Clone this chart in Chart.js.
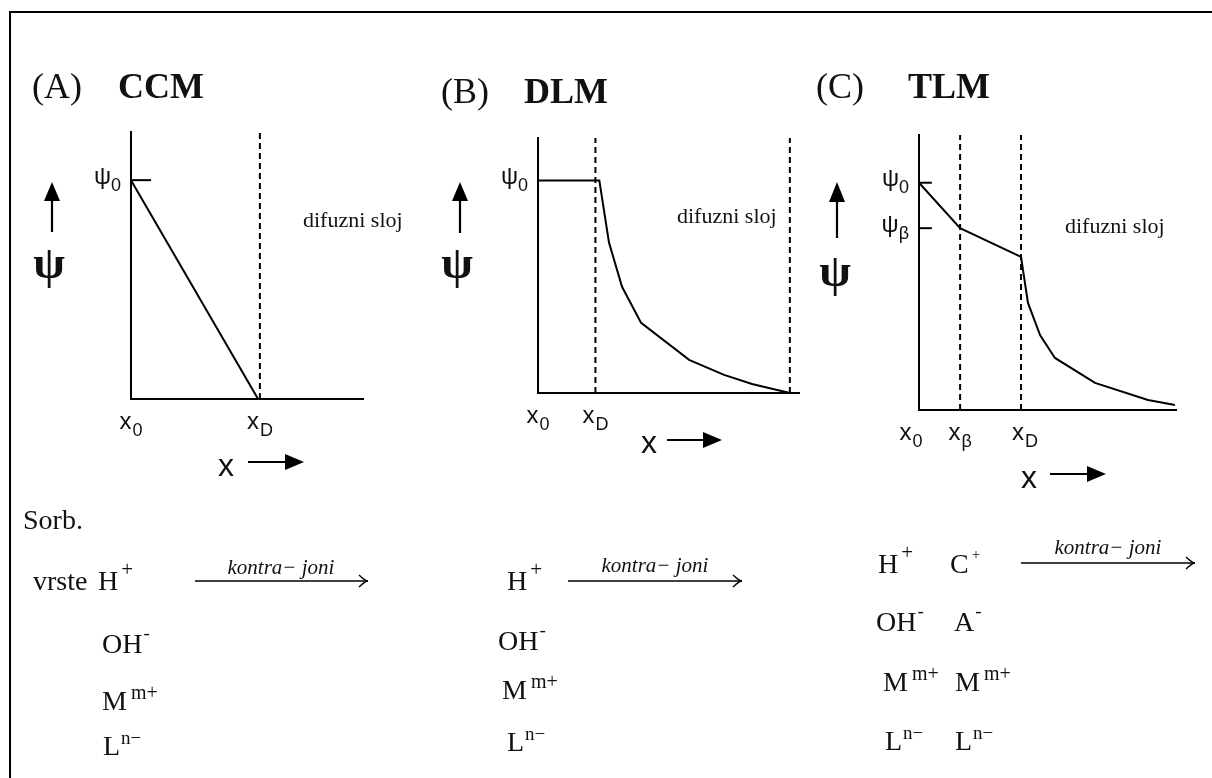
<!DOCTYPE html>
<html>
<head>
<meta charset="utf-8">
<script src="https://cdn.jsdelivr.net/npm/chart.js@4.4.0/dist/chart.umd.min.js"></script>
<style>
html, body { margin: 0; padding: 0; background: #fff; }
#page { position: relative; width: 1212px; height: 778px; overflow: hidden; background: #fff; }
#frame { position: absolute; left: 9px; top: 11px; width: 1220px; height: 790px; border-top: 2px solid #000; border-left: 2px solid #000; }
canvas { position: absolute; left: 0; top: 0; }
.t { position: absolute; white-space: nowrap; color: #111; }
.s { position: relative; line-height: 0; }
</style>
</head>
<body>
<div id="page">
  <div id="frame"></div>
  <canvas id="ccm" width="1212" height="778"></canvas>
  <canvas id="dlm" width="1212" height="778"></canvas>
  <canvas id="tlm" width="1212" height="778"></canvas>
</div>
<script>
// potential profiles psi(x), psi0 = 1

// (A) constant capacitance: straight drop to zero at xD
var ccmX = [0, 4.93];
var ccmPsi = [1, 0];
var ccmPlanes = [5];
var ccmXTicks = [0, 5];
var ccmXLabels = [['x', '0'], ['x', 'D']];
var ccmPsiTicks = [1];
var ccmPsiLabels = [['ψ', '0']];

// (B) diffuse layer: flat to xD, then decays
var dlmX = [0, 2.35, 2.72, 3.22, 3.95, 5.79, 7.13, 8.2, 9.65];
var dlmPsi = [1, 1, 0.708, 0.5, 0.33, 0.156, 0.085, 0.042, 0];
var dlmPlanes = [2.2, 9.65];
var dlmXTicks = [0, 2.2];
var dlmXLabels = [['x', '0'], ['x', 'D']];
var dlmPsiTicks = [1];
var dlmPsiLabels = [['ψ', '0']];

// (C) triple layer: two linear segments, then diffuse decay
var tlmX = [0, 1.6, 3.97, 4.24, 4.71, 5.29, 6.85, 8.91, 9.96];
var tlmPsi = [1, 0.8, 0.674, 0.471, 0.33, 0.229, 0.119, 0.044, 0.022];
var tlmPlanes = [1.6, 3.97];
var tlmXTicks = [0, 1.6, 3.97];
var tlmXLabels = [['x', '0'], ['x', 'β'], ['x', 'D']];
var tlmPsiTicks = [1, 0.8];
var tlmPsiLabels = [['ψ', '0'], ['ψ', 'β']];

// sorbed species under each model
var speciesA = [['H', '+'], ['OH', '-'], ['M', 'm+'], ['L', 'n−']];
var speciesB = [['H', '+'], ['OH', '-'], ['M', 'm+'], ['L', 'n−']];
var speciesC = [['H', '+'], ['OH', '-'], ['M', 'm+'], ['L', 'n−']];
var counterC = [['C', '+'], ['A', '-'], ['M', 'm+'], ['L', 'n−']];

var page = document.getElementById('page');

var FACE = {
  serif: { family: '"Liberation Serif", "Times New Roman", serif', top: 0.8375 },
  sans: { family: '"Liberation Sans", Arial, sans-serif', top: 0.8465 }
};

// place a text block by its baseline
function label(html, x, base, face, size, align, extra) {
  var el = document.createElement('div');
  el.className = 't';
  el.innerHTML = html;
  el.style.fontFamily = FACE[face].family;
  el.style.fontSize = size + 'px';
  el.style.lineHeight = size + 'px';
  el.style.left = x + 'px';
  el.style.top = (base - FACE[face].top * size) + 'px';
  if (align === 'center') el.style.transform = 'translateX(-50%)';
  if (align === 'right') el.style.transform = 'translateX(-100%)';
  if (extra) Object.assign(el.style, extra);
  page.appendChild(el);
  return el;
}

function lowered(txt, size, drop, gap) {
  return '<span class="s" style="font-size:' + size + 'px;top:' + drop + 'px;margin-left:' + (gap || 0) + 'px">' + txt + '</span>';
}

function zip(xs, ys) {
  return xs.map(function (x, i) { return { x: x, y: ys[i] }; });
}

// arrows drawn on the canvas after the datasets
var decorPlugin = {
  id: 'decor',
  afterDraw: function (chart, args, opts) {
    var ctx = chart.ctx;
    (opts.arrows || []).forEach(function (a) {
      var ang = Math.atan2(a.y2 - a.y1, a.x2 - a.x1);
      var c = Math.cos(ang), s = Math.sin(ang);
      ctx.save();
      ctx.strokeStyle = '#000';
      ctx.fillStyle = '#000';
      ctx.lineWidth = a.w;
      ctx.beginPath();
      ctx.moveTo(a.x1, a.y1);
      if (a.open) {
        ctx.lineTo(a.x2, a.y2);
        ctx.stroke();
        ctx.beginPath();
        ctx.moveTo(a.x2 - c * a.len - s * a.half, a.y2 - s * a.len + c * a.half);
        ctx.quadraticCurveTo(a.x2 - c * a.len * 0.3, a.y2 - s * a.len * 0.3, a.x2, a.y2);
        ctx.quadraticCurveTo(a.x2 - c * a.len * 0.3, a.y2 - s * a.len * 0.3, a.x2 - c * a.len + s * a.half, a.y2 - s * a.len - c * a.half);
        ctx.stroke();
      } else {
        ctx.lineTo(a.x2 - c * a.len * 0.8, a.y2 - s * a.len * 0.8);
        ctx.stroke();
        ctx.beginPath();
        ctx.moveTo(a.x2, a.y2);
        ctx.lineTo(a.x2 - c * a.len - s * a.half, a.y2 - s * a.len + c * a.half);
        ctx.lineTo(a.x2 - c * a.len + s * a.half, a.y2 - s * a.len - c * a.half);
        ctx.closePath();
        ctx.fill();
      }
      ctx.restore();
    });
  }
};

function profileChart(id, p) {
  var line = { showLine: true, borderColor: '#000', borderWidth: 2, pointRadius: 0, tension: 0, clip: false };
  var sets = [Object.assign({ data: zip(p.xs, p.ys) }, line)];
  p.psiTicks.forEach(function (v) {
    if (p.markLen) sets.push(Object.assign({ data: [{ x: 0, y: v }, { x: p.markLen, y: v }] }, line));
  });
  p.planes.forEach(function (v) {
    sets.push(Object.assign({ data: [{ x: v, y: 0 }, { x: v, y: p.yMax }], borderDash: [6, 4] }, line));
  });
  var axis = function (max) {
    return {
      type: 'linear', min: 0, max: max,
      grid: { drawOnChartArea: false, drawTicks: false },
      ticks: { display: false },
      border: { display: true, color: '#000', width: 2 }
    };
  };
  var chart = new Chart(document.getElementById(id), {
    type: 'scatter',
    data: { datasets: sets },
    options: {
      responsive: false,
      animation: false,
      events: [],
      layout: { autoPadding: false, padding: p.padding },
      plugins: { legend: { display: false }, tooltip: { enabled: false }, decor: { arrows: p.arrows } },
      scales: { x: axis(p.xMax), y: axis(p.yMax) }
    },
    plugins: [decorPlugin]
  });

  // tick labels with subscripts, placed from the scales
  var sx = chart.scales.x, sy = chart.scales.y;
  var axisY = sy.getPixelForValue(0), axisX = sx.getPixelForValue(0);
  p.xTicks.forEach(function (v, i) {
    var t = p.xLabels[i];
    var shift = (p.xShift && p.xShift[i]) || 0;
    label(t[0] + lowered(t[1], 18, 7, 1), sx.getPixelForValue(v) + shift, axisY + 30, 'sans', 24, 'center');
  });
  p.psiTicks.forEach(function (v, i) {
    var t = p.psiLabels[i];
    label(t[0] + lowered(t[1], 18, 7, 0), axisX - 10, sy.getPixelForValue(v) + 4, 'sans', 24, 'right');
  });
  return chart;
}

profileChart('ccm', {
  xs: ccmX, ys: ccmPsi, planes: ccmPlanes,
  xTicks: ccmXTicks, xLabels: ccmXLabels, psiTicks: ccmPsiTicks, psiLabels: ccmPsiLabels,
  xMax: 9, yMax: 1.22, markLen: 0.78,
  padding: { left: 131, top: 132, right: 1212 - 363, bottom: 778 - 399 },
  arrows: [
    { x1: 52, y1: 232, x2: 52, y2: 182, len: 19, half: 8, w: 2.2 },
    { x1: 248, y1: 462, x2: 304, y2: 462, len: 19, half: 8, w: 2.2 },
    { x1: 195, y1: 581, x2: 368, y2: 581, len: 9, half: 6, w: 1.4, open: true }
  ]
});

profileChart('dlm', {
  xs: dlmX, ys: dlmPsi, planes: dlmPlanes,
  xTicks: dlmXTicks, xLabels: dlmXLabels, psiTicks: dlmPsiTicks, psiLabels: dlmPsiLabels,
  xMax: 10, yMax: 1.2, markLen: 0,
  padding: { left: 538, top: 138, right: 1212 - 799, bottom: 778 - 393 },
  arrows: [
    { x1: 460, y1: 233, x2: 460, y2: 182, len: 19, half: 8, w: 2.2 },
    { x1: 667, y1: 440, x2: 722, y2: 440, len: 19, half: 8, w: 2.2 },
    { x1: 568, y1: 581, x2: 742, y2: 581, len: 9, half: 6, w: 1.4, open: true }
  ]
});

profileChart('tlm', {
  xs: tlmX, ys: tlmPsi, planes: tlmPlanes,
  xTicks: tlmXTicks, xLabels: tlmXLabels, psiTicks: tlmPsiTicks, psiLabels: tlmPsiLabels,
  xShift: [-8, 0, 4],
  xMax: 10, yMax: 1.21, markLen: 0.5,
  padding: { left: 919, top: 135, right: 1212 - 1176, bottom: 778 - 410 },
  arrows: [
    { x1: 837, y1: 238, x2: 837, y2: 182, len: 20, half: 8, w: 2.2 },
    { x1: 1050, y1: 474, x2: 1106, y2: 474, len: 19, half: 8, w: 2.2 },
    { x1: 1021, y1: 563, x2: 1195, y2: 563, len: 9, half: 6, w: 1.4, open: true }
  ]
});

// panel headings
label('(A)', 32, 98, 'serif', 36);
label('<b>CCM</b>', 118, 98, 'serif', 36);
label('(B)', 441, 103, 'serif', 36);
label('<b>DLM</b>', 524, 103, 'serif', 36);
label('(C)', 816, 98, 'serif', 36);
label('<b>TLM</b>', 908, 98, 'serif', 36);

// axis titles and layer captions
[[49, 279], [457, 279], [835, 287]].forEach(function (q) {
  label('<b>ψ</b>', q[0], q[1], 'serif', 46, 'center');
});
[[226, 476], [649, 453], [1029, 488]].forEach(function (q) {
  label('x', q[0], q[1], 'sans', 32, 'center');
});
[[303, 227], [677, 223], [1065, 233]].forEach(function (q) {
  label('difuzni sloj', q[0], q[1], 'serif', 22);
});

// species lists
var CHARGE = {
  '+': { size: 21, rise: 14, gap: 3 },
  '-': { size: 19, rise: 14, gap: 1 },
  'm+': { size: 20, rise: 11, gap: 4 },
  'n−': { size: 19, rise: 11, gap: 1 }
};
function species(list, xs, bases, small) {
  list.forEach(function (sp, i) {
    var c = CHARGE[sp[1]];
    var size = (small && sp[1] === '+') ? 15 : c.size;
    label(sp[0] + lowered(sp[1], size, -c.rise, c.gap), xs[i], bases[i], 'serif', 28);
  });
}

label('Sorb.', 23, 529, 'serif', 28);
label('vrste', 33, 590, 'serif', 28);
species(speciesA, [98, 102, 102, 103], [590, 653, 710, 755]);
species(speciesB, [507, 498, 502, 507], [590, 650, 699, 751]);
species(speciesC, [878, 876, 883, 885], [573, 631, 691, 750]);
species(counterC, [950, 954, 955, 955], [573, 631, 691, 750], true);

[[281, 575], [655, 573], [1108, 555]].forEach(function (q) {
  label('<i>kontra− joni</i>', q[0], q[1], 'serif', 21, 'center');
});
</script>
</body>
</html>
